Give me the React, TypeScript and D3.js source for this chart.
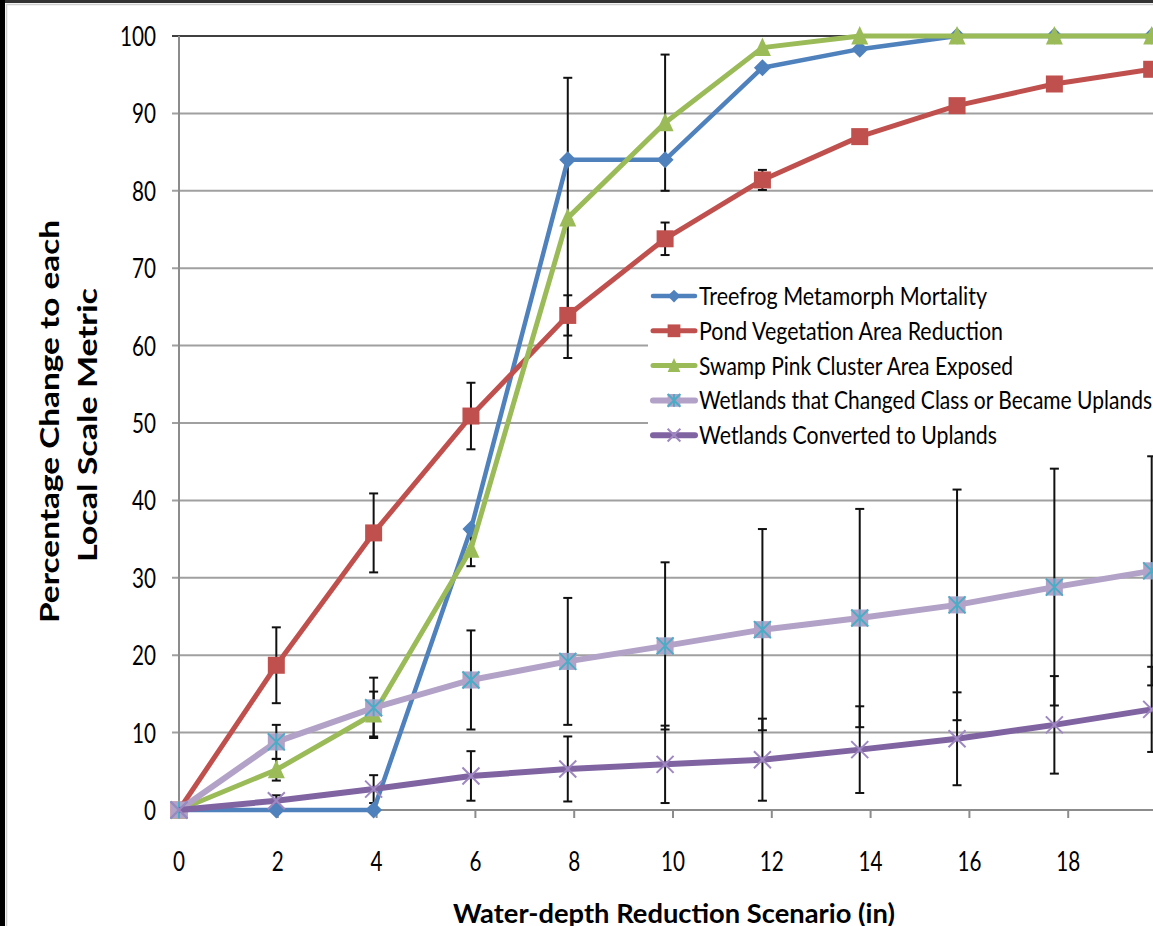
import { useEffect } from 'react';
import * as d3 from 'd3';

// water-depth scenarios (in) - points sit a bit left of the even axis ticks
const scenarioDepths = [0, 1.97, 3.94, 5.91, 7.87, 9.84, 11.81, 13.78, 15.75, 17.72, 19.69];
const xTicks = [0, 2, 4, 6, 8, 10, 12, 14, 16, 18, 20];
const yTicks = [0, 10, 20, 30, 40, 50, 60, 70, 80, 90, 100];

const treefrog = [0, 0, 0, 36.3, 84.0, 84.0, 95.9, 98.3, 100, 100, 100];
const pondVeg = [0, 18.7, 35.8, 50.9, 63.9, 73.8, 81.4, 87.0, 91.0, 93.8, 95.7];
const swampPink = [0, 5.2, 12.4, 33.7, 76.5, 88.8, 98.5, 100, 100, 100, 100];
const wetChanged = [0, 8.8, 13.2, 16.8, 19.2, 21.2, 23.3, 24.8, 26.5, 28.8, 30.9];
const wetConverted = [0, 1.2, 2.7, 4.4, 5.3, 5.9, 6.5, 7.8, 9.2, 11.0, 13.0];

const pondVegErr = [0, 4.9, 5.1, 4.3, 2.6, 2.1, 1.3, 0, 0, 0, 0];
const swampPinkErr = [0, 1.4, 2.9, 2.2, 18.1, 8.8, 0, 0, 0, 0, 0];
const wetChangedErr = [0, 2.2, 3.9, 6.4, 8.2, 10.8, 13.0, 14.1, 14.9, 15.3, 14.8];
const wetConvertedErr = [0, 0.7, 1.8, 3.2, 4.2, 5.0, 5.3, 5.6, 6.0, 6.3, 5.5];

const seriesNames = [
  'Treefrog Metamorph Mortality',
  'Pond Vegetation Area Reduction',
  'Swamp Pink Cluster Area Exposed',
  'Wetlands that Changed Class or Became Uplands',
  'Wetlands Converted to Uplands',
];
const legendWidths = [288, 304, 314, 453, 298];

const FONT = 'Lato, "Open Sans", sans-serif';

const series = [
  { values: treefrog, err: null, color: '#4F81BD', width: 4.5, marker: 'diamond' },
  { values: pondVeg, err: pondVegErr, color: '#C0504D', width: 5, marker: 'square' },
  { values: swampPink, err: swampPinkErr, color: '#9BBB59', width: 5, marker: 'triangle' },
  { values: wetChanged, err: wetChangedErr, color: '#B3A2C7', width: 6, marker: 'star' },
  { values: wetConverted, err: wetConvertedErr, color: '#8064A2', width: 6, marker: 'x' },
];

function Marker({ type, x, y, s = 1 }: { type: string; x: number; y: number; s?: number }) {
  if (type === 'diamond') {
    const r = 8.5 * s;
    return <path d={`M${x},${y - r}L${x + r},${y}L${x},${y + r}L${x - r},${y}Z`} fill="#4F81BD" />;
  }
  if (type === 'square') {
    const h = 8.5 * s;
    return <rect x={x - h} y={y - h} width={2 * h} height={2 * h} fill="#C0504D" />;
  }
  if (type === 'triangle') {
    const h = 10 * s;
    return <path d={`M${x},${y - h}L${x + 8.5 * s},${y + h * 0.85}L${x - 8.5 * s},${y + h * 0.85}Z`} fill="#9BBB59" />;
  }
  if (type === 'star') {
    const h = 8.5 * s;
    return (
      <g>
        <rect x={x - h} y={y - h} width={2 * h} height={2 * h} fill="#B3A2C7" />
        <path
          d={`M${x - h},${y - h}L${x + h},${y + h}M${x + h},${y - h}L${x - h},${y + h}M${x},${y - h}L${x},${y + h}`}
          stroke="#4BACC6"
          strokeWidth={2}
        />
      </g>
    );
  }
  const h = 8.5 * s;
  return (
    <path
      d={`M${x - h},${y - h}L${x + h},${y + h}M${x + h},${y - h}L${x - h},${y + h}`}
      stroke="#9F88C1"
      strokeWidth={2}
    />
  );
}

export default function App() {
  useEffect(() => {
    document.body.style.margin = '0';
  }, []);

  const width = 1153;
  const height = 926;

  const x = d3.scaleLinear().domain([0, 20]).range([179, 1167]);
  const y = d3.scaleLinear().domain([0, 100]).range([810, 36]);

  const line = d3
    .line<number>()
    .x((_, i) => x(scenarioDepths[i]))
    .y((d) => y(d));

  const legendY = (i: number) => 296 + i * 34.8;

  // the last tick label falls off the cropped right edge
  const visibleXLabels = xTicks.filter((t) => x(t) + String(t).length * 6 <= width);

  return (
    <svg width={width} height={height} style={{ position: 'absolute', left: 0, top: 0, background: '#fff' }}>
      {/* frame */}
      <rect x={0} y={0} width={width} height={3} fill="#333" />
      <rect x={0} y={0} width={5} height={height} fill="#000" />
      <line x1={6} x2={width} y1={4.5} y2={4.5} stroke="#d0d0d0" strokeWidth={1.5} />
      <line x1={6.5} x2={6.5} y1={4} y2={height} stroke="#d0d0d0" strokeWidth={1.5} />

      {/* gridlines */}
      {yTicks.map((t) => (
        <line
          key={t}
          x1={172}
          x2={width}
          y1={y(t)}
          y2={y(t)}
          stroke={t === 100 ? '#404040' : t === 0 ? '#8c8c8c' : '#a0a0a0'}
          strokeWidth={2}
        />
      ))}
      {/* axes */}
      <line x1={x(0)} x2={x(0)} y1={y(100)} y2={y(0)} stroke="#8c8c8c" strokeWidth={2} />
      {xTicks.map((t) => (
        <line key={t} x1={x(t)} x2={x(t)} y1={y(0)} y2={y(0) + 8} stroke="#8c8c8c" strokeWidth={2} />
      ))}

      {/* tick labels */}
      {yTicks.map((t) => (
        <text
          key={t}
          x={156}
          y={y(t) + 10}
          textAnchor="end"
          fontFamily={FONT}
          fontSize={27}
          textLength={String(t).length * 12}
          lengthAdjust="spacingAndGlyphs"
          fill="#000"
        >
          {t}
        </text>
      ))}
      {visibleXLabels.map((t) => (
        <text
          key={t}
          x={x(t)}
          y={871}
          textAnchor="middle"
          fontFamily={FONT}
          fontSize={27}
          textLength={String(t).length * 12}
          lengthAdjust="spacingAndGlyphs"
          fill="#000"
        >
          {t}
        </text>
      ))}

      {/* axis titles */}
      <text
        x={674}
        y={923}
        textAnchor="middle"
        fontFamily={FONT}
        fontWeight="bold"
        fontSize={26}
        textLength={442}
        lengthAdjust="spacingAndGlyphs"
      >
        Water-depth Reduction Scenario (in)
      </text>
      <text
        transform="translate(59,421.5) rotate(-90)"
        textAnchor="middle"
        fontFamily={FONT}
        fontWeight="bold"
        fontSize={26}
        textLength={403}
        lengthAdjust="spacingAndGlyphs"
      >
        Percentage Change to each
      </text>
      <text
        transform="translate(97,425) rotate(-90)"
        textAnchor="middle"
        fontFamily={FONT}
        fontWeight="bold"
        fontSize={26}
        textLength={274}
        lengthAdjust="spacingAndGlyphs"
      >
        Local Scale Metric
      </text>

      {/* error bars */}
      {series.map((s, si) =>
        s.err
          ? s.values.map((v, i) => {
              const e = s.err![i];
              if (!e) return null;
              const cx = x(scenarioDepths[i]);
              const y1 = y(v + e);
              const y2 = y(v - e);
              return (
                <g key={`${si}-${i}`} stroke="#111" strokeWidth={2}>
                  <line x1={cx} x2={cx} y1={y1} y2={y2} />
                  <line x1={cx - 4.5} x2={cx + 4.5} y1={y1} y2={y1} />
                  <line x1={cx - 4.5} x2={cx + 4.5} y1={y2} y2={y2} />
                </g>
              );
            })
          : null
      )}

      {/* series */}
      {series.map((s, si) => (
        <g key={si}>
          <path d={line(s.values) || ''} fill="none" stroke={s.color} strokeWidth={s.width} strokeLinejoin="round" />
          {s.values.map((v, i) => (
            <Marker key={i} type={s.marker} x={x(scenarioDepths[i])} y={y(v)} />
          ))}
        </g>
      ))}

      {/* legend */}
      <rect x={648} y={278} width={520} height={174} fill="#fff" />
      {series.map((s, i) => (
        <g key={i}>
          <line x1={653} x2={695} y1={legendY(i)} y2={legendY(i)} stroke={s.color} strokeWidth={s.width} strokeLinecap="round" />
          <Marker type={s.marker} x={674} y={legendY(i)} s={0.75} />
          <text
            x={699}
            y={legendY(i) + 9}
            fontFamily={FONT}
            fontSize={25}
            textLength={legendWidths[i]}
            lengthAdjust="spacingAndGlyphs"
            fill="#000"
          >
            {seriesNames[i]}
          </text>
        </g>
      ))}
    </svg>
  );
}
